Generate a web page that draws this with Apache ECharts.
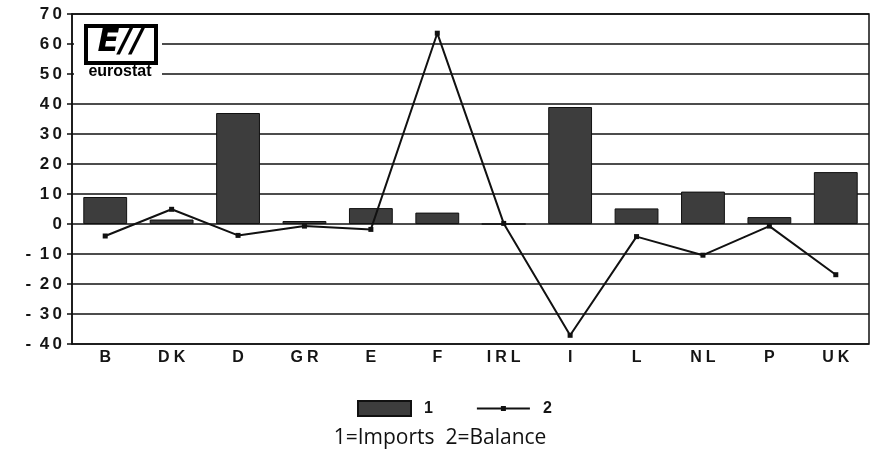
<!DOCTYPE html>
<html>
<head>
<meta charset="utf-8">
<script src="https://cdn.jsdelivr.net/npm/echarts@6/dist/echarts.min.js"></script>
<style>
  html, body { margin: 0; padding: 0; background: #fff; }
  #chart { width: 873px; height: 466px; }
</style>
</head>
<body>
<div id="chart"></div>
<script>
// Member states on the category axis
const countries = ['B', 'DK', 'D', 'GR', 'E', 'F', 'IRL', 'I', 'L', 'NL', 'P', 'UK'];
// Series 1: imports
const imports = [9, 1.5, 37, 1, 5.3, 3.8, 0, 39, 5.2, 10.8, 2.3, 17.3];
// Series 2: balance
const balance = [-4, 4.9, -3.8, -0.7, -1.8, 63.6, 0.2, -37.1, -4.2, -10.4, -0.7, -16.9];
// Value axis ticks
const yMin = -40, yMax = 70, yStep = 10;

// Spread the glyphs of a label apart for a wide, extended look
const spread = (s, gap) => String(s).split('').join(gap);
const yLabel = v => v < 0 ? '-\u2002' + spread(-v, '\u2009') : spread(v, '\u2009');

const chart = echarts.init(document.getElementById('chart'));
const labelFont = { fontFamily: 'Liberation Sans', fontWeight: 'bold', fontSize: 17, color: '#151515' };

chart.setOption({
  backgroundColor: '#ffffff',
  animation: false,
  grid: { left: 72, right: 4, top: 14, bottom: 122, show: true, borderColor: '#111', borderWidth: 1.5 },
  xAxis: {
    type: 'category',
    data: countries,
    axisLine: { show: false },
    axisTick: { show: false },
    axisLabel: Object.assign({ margin: 6, interval: 0, formatter: v => spread(v, '\u2005') }, labelFont, { fontSize: 16 })
  },
  yAxis: {
    type: 'value',
    min: yMin, max: yMax, interval: yStep,
    axisLine: { show: true, lineStyle: { color: '#111', width: 1.5 } },
    axisTick: { show: true, length: 5, lineStyle: { color: '#111', width: 1.5 } },
    axisLabel: Object.assign({ margin: 10, formatter: yLabel }, labelFont),
    splitLine: { lineStyle: { color: '#111', width: 1.5 } }
  },
  legend: {
    left: 357, top: 400, padding: 0,
    itemWidth: 53, itemHeight: 15, itemGap: 44,
    textStyle: { fontFamily: 'Liberation Sans', fontWeight: 'bold', fontSize: 16, color: '#151515', padding: [0, 0, 0, 8] },
    data: [
      { name: '1', icon: 'rect' },
      { name: '2', icon: 'path://M0,7 L53,7 L53,8.8 L0,8.8 Z M24,5.4 L29,5.4 L29,10.4 L24,10.4 Z' }
    ]
  },
  series: [
    {
      name: '1', type: 'bar', data: imports, barWidth: '66%',
      itemStyle: { color: '#3d3d3d', borderColor: '#111', borderWidth: 1 }
    },
    {
      name: '2', type: 'line', data: balance,
      symbol: 'rect', symbolSize: 5, z: 5,
      lineStyle: { color: '#111', width: 2 },
      itemStyle: { color: '#111' }
    }
  ],
  graphic: [
    // eurostat logo over the upper-left corner of the plot
    { type: 'rect', left: 74, top: 18, shape: { width: 88, height: 64 }, style: { fill: '#fff' }, z: 10 },
    { type: 'rect', left: 84, top: 24, shape: { width: 70, height: 37 }, style: { fill: '#fff', stroke: '#000', lineWidth: 4 }, z: 11 },
    { type: 'text', x: 120, y: 43, z: 12,
      style: { text: 'E//', font: 'italic bold 32px "DejaVu Sans"', fill: '#000', align: 'center', verticalAlign: 'middle' } },
    { type: 'text', x: 120, y: 72, z: 12,
      style: { text: 'eurostat', font: 'bold 16px "Liberation Sans"', fill: '#000', align: 'center', verticalAlign: 'middle' } },
    // key beneath the legend
    { type: 'text', x: 440, y: 438,
      style: { text: '1=Imports  2=Balance', font: '21px "Open Sans"', fill: '#111', align: 'center', verticalAlign: 'middle' } }
  ]
});
</script>
</body>
</html>
